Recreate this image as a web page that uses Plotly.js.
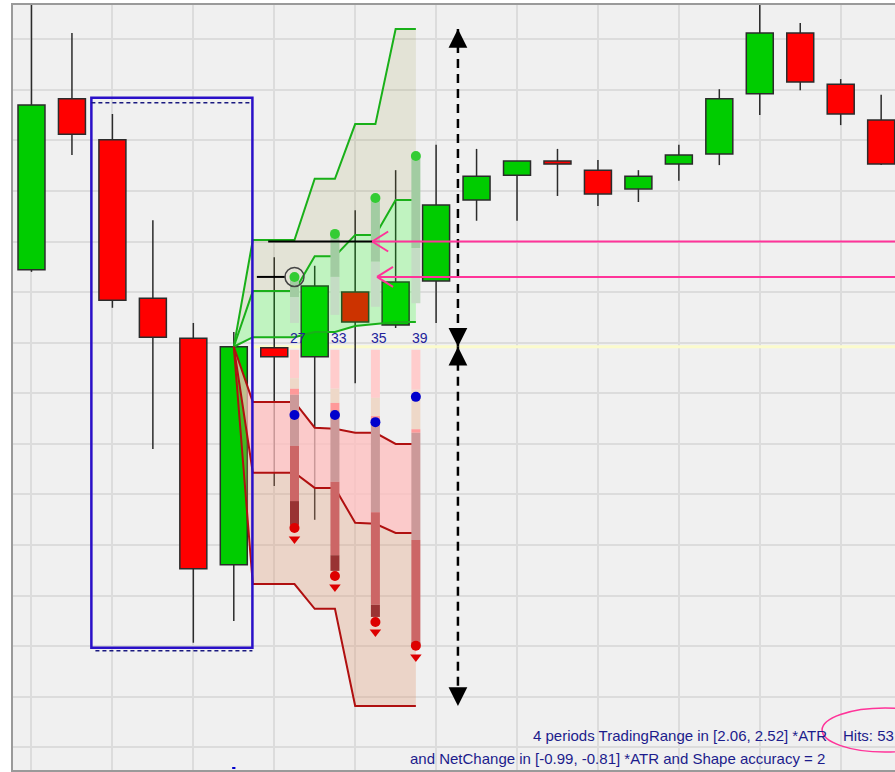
<!DOCTYPE html>
<html><head><meta charset="utf-8">
<script src="https://cdn.plot.ly/plotly-3.0.1.min.js"></script>
<style>html,body{margin:0;padding:0;background:#fff;overflow:hidden}#chart{width:895px;height:772px}</style>
</head><body><div id="chart"></div>
<script>
// ---- candles ----
const barIndex = [0,1,2,3,4,5,6,7,8,9,10,11,12,13,14,15,16,17,18,19,20,21];
const openP  = [194.4,228.2,220.1,188.8,180.9,136.1,179.0,177.2,190.0,183.5,192.2,208.2,213.1,215.9,214.1,210.4,215.3,217.3,229.2,241.2,231.1,224.0];
const highP  = [248.5,241.2,225.2,204.2,183.9,182.1,196.9,195.2,206.2,214.1,219.1,218.3,215.9,218.3,216.1,214.1,219.1,230.1,247.5,243.2,232.1,229.0];
const lowP   = [194.0,217.1,186.9,159.0,120.7,125.0,151.7,145.0,172.0,182.9,183.9,204.1,204.1,209.0,207.0,207.8,212.0,215.1,225.0,229.9,223.0,215.1];
const closeP = [227.0,221.2,188.4,181.1,135.3,179.2,177.2,191.2,184.1,192.0,207.2,212.9,215.9,215.3,209.4,212.9,217.1,228.2,241.2,231.5,225.2,215.3];

// ---- projection fans ----
const fanX        = [5, 5.47, 6.5, 7.0, 7.5, 8.0, 8.5, 9.0, 9.5];
const greenUpper  = [179.2,200.3,200.3,212.4,212.4,223.2,223.2,242.0,242.0];
const greenMiddle = [179.2,190.2,190.2,197.1,197.1,201.3,201.3,208.2,208.2];
const greenLower  = [179.2,181.1,181.1,182.1,182.1,183.3,183.7,184.1,184.1];
const redUpper    = [179.2,168.3,168.3,163.2,163.0,162.2,162.2,160.0,160.0];
const redMiddle   = [179.2,154.3,154.3,151.3,151.3,144.4,144.2,142.4,142.4];
const redLower    = [179.2,132.3,132.3,127.4,127.4,108.2,108.2,108.2,108.2];

// ---- probe columns ----
const probeX      = [6.5, 7.5, 8.5, 9.5];
const hitCounts   = [27, 33, 35, 39];
const greenTop    = [193.0, 201.5, 208.6, 216.9];
const greenSplit  = [189.0, 193.0, 196.0, 198.7];
const greenBottom = [183.9, 185.5, 187.1, 187.8];
const redLevels1  = [178.6,173.0,170.9,169.7,159.6,148.7,144.0];
const redLevels2  = [178.6,170.9,168.1,166.7,152.5,138.0,134.9];
const redLevels3  = [178.6,169.1,165.5,164.7,146.5,128.2,125.8];
const redLevels4  = [178.6,170.7,162.9,162.2,141.0,120.8,120.3];
const blueDots    = [165.7, 165.7, 164.3, 169.3];
const redDots     = [143.4, 133.9, 124.8, 120.1];
const redMarks    = [141.2, 131.7, 122.8, 117.9];

// ---- annotations / reference levels ----
const patternBoxX = [1.48, 5.46];
const patternBoxY = [119.7, 228.4];
const patternDashY = [227.4, 119.1];
const refLevels   = [200.0, 193.0];
const refLineAX   = [5.85, 8.43];
const refLineBX   = [5.57, 6.27];
const arrowTipX   = [8.42, 8.54];
const rangeArrowX = 10.54;
const textLine1 = '4 periods TradingRange in [2.06, 2.52] *ATR';
const textHits  = 'Hits: 53';
const textLine2 = 'and NetChange in [-0.99, -0.81] *ATR and Shape accuracy = 2';

const UP = '#00cc00', DOWN = '#ff0000', EDGE = '#2b2b2b';
const traces = [];

// candle bodies
traces.push({
  type:'bar', x: barIndex,
  base: barIndex.map(i => Math.min(openP[i], closeP[i])),
  y: barIndex.map(i => Math.max(Math.abs(closeP[i]-openP[i]), 0.25)),
  width: 0.667,
  marker:{color: barIndex.map(i => closeP[i] >= openP[i] ? UP : DOWN), line:{color:EDGE, width:1.5}},
  hoverinfo:'skip'
});
// wicks
const wx = [], wy = [];
barIndex.forEach(i => {
  const top = Math.max(openP[i], closeP[i]), bot = Math.min(openP[i], closeP[i]);
  wx.push(i, i, null, i, i, null);
  wy.push(top, highP[i], null, lowP[i], bot, null);
});
traces.push({type:'scatter', mode:'lines', x:wx, y:wy, line:{color:EDGE, width:1.5}, hoverinfo:'skip'});

// fans
const GL = '#19b019', RL = '#b01010';
traces.push({type:'scatter', mode:'lines', x:fanX, y:greenLower, line:{color:GL, width:2}});
traces.push({type:'scatter', mode:'lines', x:fanX, y:greenMiddle, fill:'tonexty', fillcolor:'rgba(0,255,0,0.2)', line:{color:GL, width:2}});
traces.push({type:'scatter', mode:'lines', x:fanX, y:greenUpper, fill:'tonexty', fillcolor:'rgba(140,140,40,0.13)', line:{color:GL, width:2}});
traces.push({type:'scatter', mode:'lines', x:fanX, y:redUpper, line:{color:RL, width:2}});
traces.push({type:'scatter', mode:'lines', x:fanX, y:redMiddle, fill:'tonexty', fillcolor:'rgba(255,190,190,0.75)', line:{color:RL, width:2}});
traces.push({type:'scatter', mode:'lines', x:fanX, y:redLower, fill:'tonexty', fillcolor:'rgba(225,150,110,0.3)', line:{color:RL, width:2}});

// red probe columns
const redLevels = [redLevels1, redLevels2, redLevels3, redLevels4];
const redSegColors = ['#ffcccc','#eed8c8','#ff9999','#cc9999','#cc6666','#993333'];
redSegColors.forEach((c, j) => {
  const x = [], y = [];
  probeX.forEach((px, k) => { x.push(px, px, null); y.push(redLevels[k][j], redLevels[k][j+1], null); });
  traces.push({type:'scatter', mode:'lines', x, y, line:{color:c, width:9}});
});
// green probe columns
[[greenTop, greenSplit, '#a2cca2'], [greenSplit, greenBottom, '#c4dcc4']].forEach(([a, b, c]) => {
  const x = [], y = [];
  probeX.forEach((px, k) => { x.push(px, px, null); y.push(a[k], b[k], null); });
  traces.push({type:'scatter', mode:'lines', x, y, line:{color:c, width:9}});
});
// dots
traces.push({type:'scatter', mode:'markers', x:probeX, y:greenTop, marker:{color:'#33cc33', size:10}});
traces.push({type:'scatter', mode:'markers', x:probeX, y:blueDots, marker:{color:'#0000cc', size:10}});
traces.push({type:'scatter', mode:'markers', x:probeX, y:redDots, marker:{color:'#dd0000', size:10}});
traces.push({type:'scatter', mode:'markers', x:probeX, y:redMarks, marker:{color:'#dd0000', size:10, symbol:'triangle-down'}});
// black reference lines + circle
traces.push({type:'scatter', mode:'lines', x:[refLineAX[0], refLineAX[1], null, refLineBX[0], refLineBX[1]],
  y:[refLevels[0], refLevels[0], null, refLevels[1], refLevels[1]], line:{color:'#000', width:2}});
traces.push({type:'scatter', mode:'markers', x:[probeX[0]], y:[refLevels[1]], marker:{symbol:'circle-open', size:19, color:'#444', line:{width:1.5}}});

const rangeTop = Math.max(...greenUpper), rangeMid = closeP[5], rangeBot = Math.min(...redLower);
const PINK = '#ff3399';

const shapes = [
  {type:'line', layer:'between', xref:'x', yref:'y', x0:fanX[1], x1:22, y0:closeP[5], y1:closeP[5], line:{color:'#fbfbcc', width:3}},
  {type:'rect', xref:'x', yref:'y', x0:patternBoxX[0], x1:patternBoxX[1], y0:patternBoxY[0], y1:patternBoxY[1], line:{color:'#2a10c8', width:2.5}},
  {type:'line', xref:'x', yref:'y', x0:patternBoxX[0], x1:patternBoxX[1], y0:patternDashY[0], y1:patternDashY[0], line:{color:'#1a1a80', width:1.5, dash:'4px,3px'}},
  {type:'line', xref:'x', yref:'y', x0:patternBoxX[0]+0.1, x1:patternBoxX[1], y0:patternDashY[1], y1:patternDashY[1], line:{color:'#1a1a80', width:1.5, dash:'4px,3px'}},
  {type:'line', xref:'x', yref:'y', x0:rangeArrowX, x1:rangeArrowX, y0:rangeTop, y1:rangeMid, line:{color:'#000', width:2.5, dash:'9px,6px'}},
  {type:'line', xref:'x', yref:'y', x0:rangeArrowX, x1:rangeArrowX, y0:rangeMid, y1:rangeBot, line:{color:'#000', width:2.5, dash:'9px,6px'}},
  {type:'circle', xref:'x', yref:'y', x0:19.54, x1:22.65, y0:99.1, y1:107.8, line:{color:PINK, width:1.5}},
  {type:'line', xref:'x', yref:'y', x0:4.96, x1:5.04, y0:95.95, y1:95.95, line:{color:'#0000cc', width:2}}
];
// pink arrows: shaft + open chevron head (pixel-sized barbs anchored at the tip)
[0,1].forEach(k => {
  shapes.push({type:'line', xref:'x', yref:'y', x0:arrowTipX[k], x1:22, y0:refLevels[k], y1:refLevels[k], line:{color:PINK, width:2}});
  [10, -10].forEach(dy => shapes.push({type:'line', xref:'x', yref:'y', xsizemode:'pixel', ysizemode:'pixel',
    xanchor:arrowTipX[k], yanchor:refLevels[k], x0:0, x1:16, y0:0, y1:dy, line:{color:PINK, width:2}}));
});

const annotations = [];
probeX.forEach((px, k) => annotations.push({x:px, y:180.9, xref:'x', yref:'y', text:String(hitCounts[k]), showarrow:false, xshift:4,
  font:{family:'Arial, Liberation Sans, sans-serif', size:14, color:'#22229a'}}));
const tfont = {family:'Arial, Liberation Sans, sans-serif', size:15, color:'#1c1c8c'};
annotations.push({x:12.35, y:102.3, xref:'x', yref:'y', text:textLine1, showarrow:false, xanchor:'left', font:tfont});
annotations.push({x:20.0, y:102.3, xref:'x', yref:'y', text:textHits, showarrow:false, xanchor:'left', font:tfont});
annotations.push({x:9.31, y:97.9, xref:'x', yref:'y', text:textLine2, showarrow:false, xanchor:'left', font:tfont});
// range arrowheads
[[rangeTop, 17], [rangeMid, -17], [rangeMid, 17], [rangeBot, -17]].forEach(([yv, off]) => annotations.push({
  x:rangeArrowX, y:yv, xref:'x', yref:'y', ax:0, ay:off, text:'', showarrow:true, arrowhead:2, arrowsize:1.5, arrowwidth:2.5, arrowcolor:'#000'}));

const axisCommon = {showticklabels:false, ticks:'', zeroline:false, showgrid:true, gridcolor:'#dcdcdc', gridwidth:2,
  showline:true, linecolor:'#9a9a9a', linewidth:2, fixedrange:true};
const layout = {
  width:895, height:772, margin:{l:13, r:0, t:5, b:2},
  paper_bgcolor:'#ffffff', plot_bgcolor:'#f0f0f0', showlegend:false, hovermode:false,
  xaxis: Object.assign({range:[-0.457, 21.342], dtick:2, tick0:0, mirror:true}, axisCommon),
  yaxis: Object.assign({range:[95.55, 246.74], dtick:10, tick0:100, mirror:false}, axisCommon),
  shapes, annotations
};
Plotly.newPlot('chart', traces, layout, {staticPlot:true, displayModeBar:false});
</script></body></html>
